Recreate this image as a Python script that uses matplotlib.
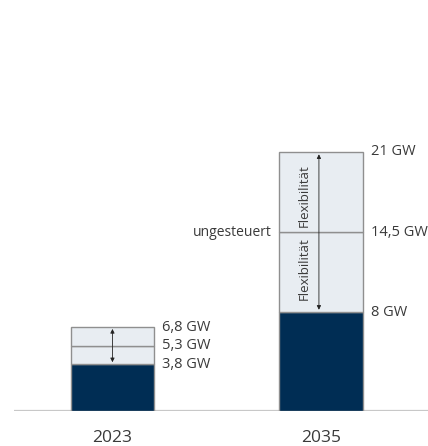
import matplotlib
matplotlib.use("Agg")
import matplotlib.pyplot as plt

plt.rcParams['font.family'] = ['Open Sans', 'DejaVu Sans']

# Leistung in GW je Jahr
years = ['2023', '2035']
fixed = [3.8, 8.0]          # fester Anteil (dunkel)
mid = [5.3, 14.5]           # ungesteuert
total = [6.8, 21.0]         # Obergrenze
level_labels = [['3,8 GW', '5,3 GW', '6,8 GW'],
                ['8 GW', '14,5 GW', '21 GW']]

navy = '#002d54'
light = '#e8edf2'
edge = '#8f8f8f'
text_col = '#3a3a3a'

fig = plt.figure(figsize=(4.28, 4.46), dpi=100)
ax = fig.add_axes([14 / 428, 35 / 446, 414 / 428, 411 / 446])
ax.set_xlim(-0.472, 1.513)
ax.set_ylim(0, 33.3)
ax.axis('off')

x = list(range(len(years)))
w = 0.40
lower = [m - f for m, f in zip(mid, fixed)]
upper = [t - m for t, m in zip(total, mid)]

ax.bar(x, fixed, width=w, color=navy, edgecolor=edge, linewidth=1)
ax.bar(x, lower, bottom=fixed, width=w, color=light, edgecolor=edge, linewidth=1)
ax.bar(x, upper, bottom=mid, width=w, color=light, edgecolor=edge, linewidth=1)

ax.axhline(0, color='#c8c8c8', linewidth=1.6, zorder=0)

for i in x:
    # Beschriftung rechts neben den Stufen
    for val, lab in zip([fixed[i], mid[i], total[i]], level_labels[i]):
        ax.text(i + w / 2 + 0.04, val, lab, ha='left', va='center',
                fontsize=10.5, color=text_col)
    ax.text(i, -2.2, years[i], ha='center', va='center', fontsize=12.5,
            color=text_col)
    # Doppelpfeil über den Flexibilitätsbereich
    pad = 0.15 if i == 0 else 0.2
    ax.annotate('', xy=(i - 0.01 * i, total[i] - pad),
                xytext=(i - 0.01 * i, fixed[i] + pad),
                arrowprops=dict(arrowstyle='<|-|>', color='#222222', lw=0.6,
                                mutation_scale=6, shrinkA=0, shrinkB=0))

# Flexibilität um den ungesteuerten Wert (2035)
ax.text(1 - 0.078, (mid[1] + total[1]) / 2 - 0.3, 'Flexibilität', rotation=90,
        ha='center', va='center', fontsize=9.5, color=text_col)
ax.text(1 - 0.078, (fixed[1] + mid[1]) / 2 + 0.3, 'Flexibilität', rotation=90,
        ha='center', va='center', fontsize=9.5, color=text_col)
ax.text(1 - w / 2 - 0.035, mid[1], 'ungesteuert', ha='right', va='center',
        fontsize=10, color=text_col)

fig.savefig('out.png', dpi=100)
